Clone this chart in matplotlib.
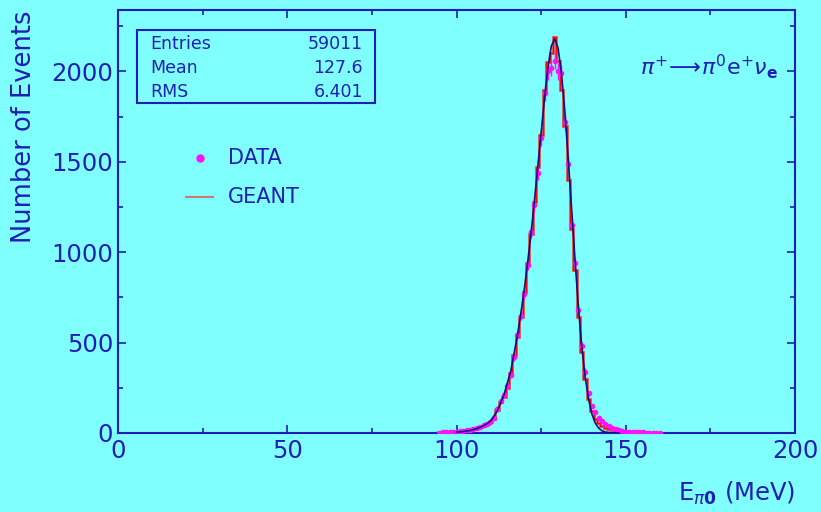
import numpy as np
import matplotlib
matplotlib.use('Agg')
import matplotlib.pyplot as plt

# histogram values, 1 MeV bins starting at 95 MeV
e_start = 95
data_counts = [2, 3, 4, 5, 6, 8, 10, 12, 15, 18,
               22, 28, 35, 42, 50, 62, 85, 135, 175, 210,
               260, 320, 420, 540, 650, 770, 930, 1110, 1260, 1440,
               1630, 1880, 2000, 2020, 2060, 2000, 1990, 1720, 1490, 1150,
               940, 680, 480, 340, 220, 150, 115, 85, 65, 50,
               38, 28, 20, 15, 11, 8, 6, 5, 4, 3,
               3, 2, 2, 2, 1, 1]
geant_counts = [3, 3, 4, 5, 6, 7, 9, 11, 14, 17,
                21, 26, 33, 40, 48, 60, 80, 130, 170, 200,
                250, 330, 430, 530, 640, 780, 940, 1100, 1280, 1470,
                1650, 1900, 2050, 2100, 2190, 2060, 1900, 1700, 1400, 1130,
                900, 640, 450, 300, 190, 120, 80, 55, 40, 30,
                22, 16, 12, 9, 7, 5, 4, 3, 3, 2,
                2, 2, 1, 1, 1, 1]

# fitted curve
fit_e = [100, 102, 104, 106, 108, 110, 112, 114, 116, 118, 119, 120, 121, 122, 123,
         124, 125, 126, 127, 128, 129, 130, 131, 132, 133, 134, 135, 136, 137, 138,
         139, 140, 141, 142, 143, 144, 146, 148]
fit_y = [5, 8, 14, 24, 40, 65, 120, 210, 340, 540, 660, 790, 940, 1100, 1280,
         1470, 1660, 1850, 2020, 2140, 2180, 2130, 1990, 1780, 1520, 1240, 960, 700, 480, 310,
         190, 105, 55, 27, 12, 5, 1, 0]

stats_names = ['Entries', 'Mean', 'RMS']
stats_values = ['59011', '127.6', '6.401']

bg = '#80ffff'
ink = '#1e1eb4'

plt.rcParams['font.family'] = 'DejaVu Sans'
fig = plt.figure(figsize=(8.21, 5.12), dpi=100, facecolor=bg)
ax = fig.add_axes([118/821, 1-433/512, (795-118)/821, (433-10)/512])
ax.set_facecolor(bg)

n = len(data_counts)
edges = np.arange(e_start, e_start + n + 1) - 0.5
centers = edges[:-1] + 0.5

# flat zero baseline over the full range
ax.plot([0, 200], [0, 0], color='#d02020', lw=1.2, zorder=2)
ax.stairs(geant_counts, edges, color='#c87a70', lw=2.2, zorder=3)
ax.stairs(geant_counts, edges, color='red', lw=1.0, zorder=4)
ax.errorbar(centers, data_counts, yerr=np.sqrt(data_counts), fmt='o', color='#ff10ff',
            ms=3, elinewidth=1, capsize=0, zorder=5)
ax.plot(fit_e, fit_y, color='#101080', lw=1.2, zorder=6)

ax.set_xlim(0, 200)
ax.set_ylim(0, 2340)
ax.set_xticks([0, 50, 100, 150, 200])
ax.set_xticks([25, 75, 125, 175], minor=True)
ax.set_yticks([0, 500, 1000, 1500, 2000])
ax.set_yticks([250, 750, 1250, 1750, 2250], minor=True)
ax.tick_params(which='both', direction='in', top=True, right=True, colors=ink,
               labelsize=17.5, width=1.2)
ax.tick_params(which='major', length=6)
ax.tick_params(which='minor', length=3.5)
ax.tick_params(axis='x', pad=4)
for s in ax.spines.values():
    s.set_color(ink)
    s.set_linewidth(1.5)

ax.set_ylabel('Number of Events', color=ink, fontsize=18.5)
ax.yaxis.set_label_coords(-0.12, 0.725)
fig.text(795/821, 1-493/512, r'E$_{\pi\mathbf{0}}$ (MeV)', color=ink, fontsize=17.5,
         ha='right', va='center')

# stats box
box = plt.Rectangle((137/821, 1-103/512), (375-137)/821, (103-30)/512, transform=fig.transFigure,
                    fill=False, edgecolor=ink, lw=1.5)
fig.add_artist(box)
for i, (nm, val) in enumerate(zip(stats_names, stats_values)):
    yy = 1 - (44 + i*24)/512
    fig.text(150/821, yy, nm, color=ink, fontsize=12.5, va='center')
    fig.text(363/821, yy, val, color=ink, fontsize=12.5, va='center', ha='right')

# legend
fig.lines.append(plt.Line2D([200/821], [1-158/512], marker='o', color='#ff10ff', ms=5,
                            transform=fig.transFigure))
fig.text(228/821, 1-158/512, 'DATA', color=ink, fontsize=15, va='center')
fig.lines.append(plt.Line2D([186/821, 213/821], [1-197/512, 1-197/512], color='#c87a70', lw=1.5,
                            transform=fig.transFigure))
fig.text(228/821, 1-197/512, 'GEANT', color=ink, fontsize=15, va='center')

fig.text(640/821, 1-67/512, r'$\pi^{+}\!\longrightarrow\!\pi^{0}\mathrm{e}^{+}\nu_{\mathbf{e}}$',
         color=ink, fontsize=16, va='center')

fig.savefig('out.png', dpi=100, facecolor=bg)
